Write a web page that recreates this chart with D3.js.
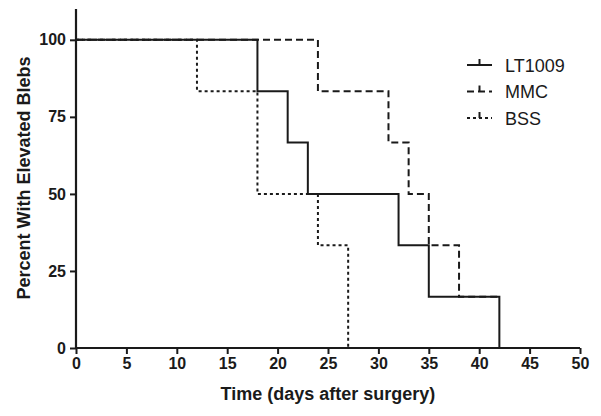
<!DOCTYPE html>
<html><head><meta charset="utf-8">
<script src="https://cdn.jsdelivr.net/npm/d3@7"></script>
<style>body{margin:0;background:#fff}svg{display:block}text{font-family:"Liberation Sans",Arial,sans-serif;fill:#1a1a1a}</style>
</head><body><svg id="c" width="601" height="416"></svg>
<script>
const seriesNames = ["LT1009", "MMC", "BSS"];
// step points: [time, percent]
const lt1009 = [[0,100],[18,83.33],[21,66.67],[23,50],[32,33.33],[35,16.67],[42,0]];
const mmc = [[0,100],[24,83.33],[31,66.67],[33,50],[35,33.33],[38,16.67]];
const mmcEnd = 42;
const bss = [[0,100],[12,83.33],[18,50],[24,33.33],[27,0]];
const xTicks = [0,5,10,15,20,25,30,35,40,45,50];
const yTicks = [0,25,50,75,100];
const dashes = ["none", "7,4", "3,3"];

const svg = d3.select("#c");
const x = d3.scaleLinear().domain([0,50]).range([76,580]);
const y = d3.scaleLinear().domain([0,110]).range([348,9]);

function stepPath(pts, endT){
  let d = "M" + x(pts[0][0]) + "," + y(pts[0][1]);
  for(let i=1;i<pts.length;i++){
    d += "H" + x(pts[i][0]) + "V" + y(pts[i][1]);
  }
  if(endT!==undefined) d += "H" + x(endT);
  return d;
}
const data = [[lt1009,undefined],[mmc,mmcEnd],[bss,undefined]];
[2,1,0].forEach(i=>{
  svg.append("path").attr("d", stepPath(data[i][0], data[i][1]))
    .attr("fill","none").attr("stroke","#1a1a1a").attr("stroke-width",2)
    .attr("stroke-dasharray", dashes[i]);
});

const xAxis = svg.append("g").attr("transform","translate(0,348)")
  .call(d3.axisBottom(x).tickValues(xTicks).tickSize(6).tickPadding(4));
const yAxis = svg.append("g").attr("transform","translate(76,0)")
  .call(d3.axisLeft(y).tickValues(yTicks).tickSize(6).tickPadding(4));
[xAxis,yAxis].forEach(g=>{
  g.select(".domain").attr("stroke","#1a1a1a").attr("stroke-width",2.2);
  g.selectAll(".tick line").attr("stroke","#1a1a1a").attr("stroke-width",2);
  g.selectAll(".tick text").attr("font-size",16).attr("font-weight","bold")
    .attr("font-family","'Liberation Sans',Arial,sans-serif").attr("fill","#1a1a1a");
});
yAxis.select(".domain").attr("d","M0,"+y(110)+"V"+y(0));
xAxis.select(".domain").attr("d","M"+x(0)+",0H"+x(50));

svg.append("text").attr("x",328).attr("y",400).attr("text-anchor","middle")
  .attr("font-size",18).attr("font-weight","bold").text("Time (days after surgery)");
svg.append("text").attr("transform","translate(30,178) rotate(-90)").attr("text-anchor","middle")
  .attr("font-size",18).attr("font-weight","bold").text("Percent With Elevated Blebs");

const lg = svg.append("g");
seriesNames.forEach((n,i)=>{
  const yy = 65 + i*26.5;
  lg.append("line").attr("x1",467).attr("x2",492).attr("y1",yy).attr("y2",yy)
    .attr("stroke","#1a1a1a").attr("stroke-width",2).attr("stroke-dasharray",dashes[i]);
  lg.append("line").attr("x1",479.5).attr("x2",479.5).attr("y1",yy-6).attr("y2",yy)
    .attr("stroke","#1a1a1a").attr("stroke-width",2);
  lg.append("text").attr("x",505).attr("y",yy+6.5).attr("font-size",18).text(n);
});
</script></body></html>
